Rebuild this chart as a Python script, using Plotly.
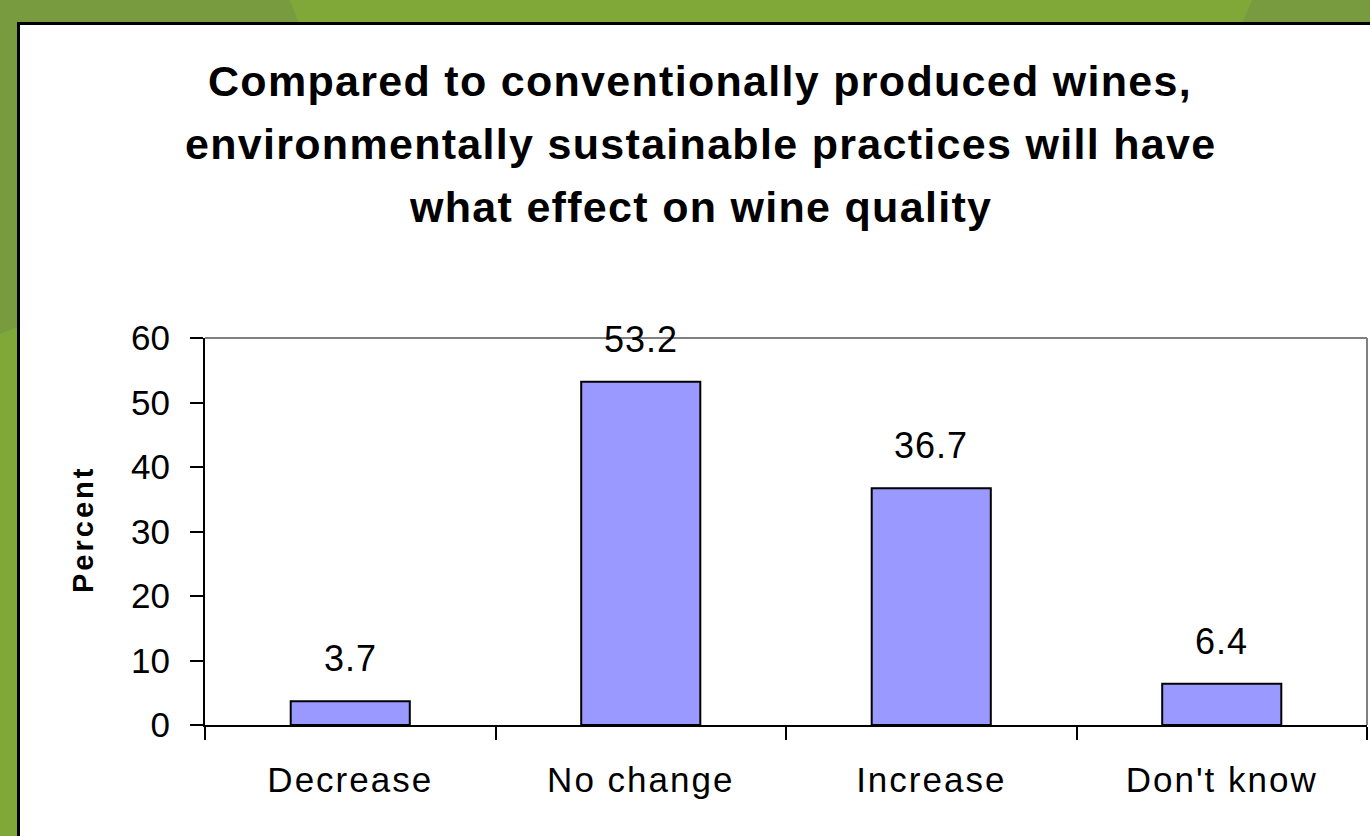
import plotly.graph_objects as go

categories = ["Decrease", "No change", "Increase", "Don't know"]
values = [3.7, 53.2, 36.7, 6.4]
value_labels = ["3.7", "53.2", "36.7", "6.4"]
title_lines = [
    "Compared to conventionally produced wines,",
    "environmentally sustainable practices will have",
    "what effect on wine quality",
]
y_ticks = [0, 10, 20, 30, 40, 50, 60]

W, H = 1370, 836
PL, PR, PT, PB = 205, 1367, 338, 725  # plot area pixels

def px(x):
    return (x - PL) / (PR - PL)

def py(y):
    return (PB - y) / (PB - PT)

def spaced(t, ls):
    return f'<span style="letter-spacing:{ls}px">{t}</span>'

FONT = "Liberation Sans, Arial, sans-serif"

fig = go.Figure()
fig.add_trace(go.Bar(
    x=categories, y=values, width=0.41,
    marker=dict(color="#9999FF", line=dict(color="black", width=2)),
    hoverinfo="skip",
))

shapes = []
shapes.append(dict(type="path", xref="paper", yref="paper", layer="below",
                   path=f"M {px(290)} {py(0)} L {px(1252)} {py(0)} L {px(1235)} {py(40)} L {px(305)} {py(40)} Z",
                   fillcolor="#80A838", line=dict(width=0)))
shapes.append(dict(type="path", xref="paper", yref="paper", layer="below",
                   path=f"M {px(0)} {py(334)} L {px(30)} {py(322)} L {px(30)} {py(840)} L {px(0)} {py(840)} Z",
                   fillcolor="#80A838", line=dict(width=0)))
shapes.append(dict(type="rect", xref="paper", yref="paper", layer="below",
                   x0=px(18.5), x1=px(1400), y0=py(23.5), y1=py(900),
                   fillcolor="white", line=dict(color="black", width=3)))
shapes.append(dict(type="line", xref="paper", yref="paper", layer="above",
                   x0=0, x1=1, y0=1, y1=1, line=dict(color="#808080", width=2)))
shapes.append(dict(type="line", xref="paper", yref="paper", layer="above",
                   x0=1, x1=1, y0=0, y1=1, line=dict(color="#808080", width=2)))

annotations = []
for i, line in enumerate(title_lines):
    annotations.append(dict(text=f"<b>{spaced(line, 1.3)}</b>", xref="paper", yref="paper",
                            x=px(700), y=py(81 + i * 63), xanchor="center", yanchor="middle",
                            showarrow=False, font=dict(family=FONT, size=43, color="black")))
annotations.append(dict(text=f"<b>{spaced('Percent', 3)}</b>", xref="paper", yref="paper",
                        x=px(83), y=py(530), textangle=-90, xanchor="center", yanchor="middle",
                        showarrow=False, font=dict(family=FONT, size=29, color="black")))
for c, v, t in zip(categories, values, value_labels):
    annotations.append(dict(text=spaced(t, 1), x=c, y=v, xref="x", yref="y", yanchor="bottom",
                            yshift=20, showarrow=False,
                            font=dict(family=FONT, size=36, color="black")))

fig.update_layout(
    width=W, height=H,
    margin=dict(l=PL, r=W - PR, t=PT, b=H - PB, pad=0),
    paper_bgcolor="#789B3F",
    plot_bgcolor="#C0C0C0",
    showlegend=False,
    shapes=shapes,
    annotations=annotations,
    bargap=0.59,
)
fig.update_xaxes(
    type="category", showgrid=False, showline=True, linecolor="black", linewidth=2,
    ticks="outside", ticklen=13, tickwidth=2, tickcolor="black", tickson="boundaries",
    tickmode="array", tickvals=categories, ticktext=[spaced(c, 2) for c in categories],
    ticklabelstandoff=23,
    tickfont=dict(family=FONT, size=35, color="black"),
)
fig.update_yaxes(
    range=[0, 60], tickvals=y_ticks, showgrid=False, zeroline=False,
    showline=True, linecolor="black", linewidth=2,
    ticks="outside", ticklen=13, tickwidth=2, tickcolor="black",
    ticklabelstandoff=13,
    tickfont=dict(family=FONT, size=35, color="black"),
)

fig.write_html("out.html")
